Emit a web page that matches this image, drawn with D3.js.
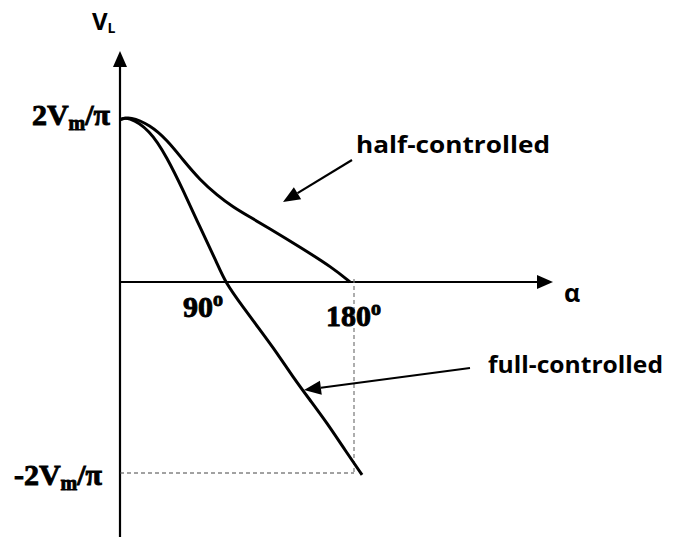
<!DOCTYPE html>
<html>
<head>
<meta charset="utf-8">
<script src="https://cdn.jsdelivr.net/npm/d3@7"></script>
<style>
  body { margin: 0; background: #fff; }
  .serif { font-family: "Liberation Serif", "Times New Roman", serif; font-weight: bold; stroke: #000; stroke-width: 0.9px; }
  .sans { font-family: "Open Sans", "Liberation Sans", sans-serif; font-weight: bold; }
</style>
</head>
<body>
<svg id="chart" width="678" height="537"></svg>
<script>
// firing angle (deg) and normalised output voltage
let full_alpha = [0, 6, 23, 36.5, 49, 62, 75.3, 81.5, 95.4, 108.6, 121.8, 134.2, 147.4, 160.6, 173, 187.8],
    full_vl    = [0.99, 1.01, 0.93, 0.76, 0.56, 0.335, 0.116, 0, -0.131, -0.251, -0.372, -0.497, -0.618, -0.738, -0.864, -1.01],
    half_alpha = [0, 7.8, 23.3, 36.5, 48.9, 62.1, 75.3, 87.7, 100.9, 114.1, 139.7, 165.3, 178.4],
    half_vl    = [0.99, 1.01, 0.957, 0.866, 0.744, 0.622, 0.53, 0.457, 0.396, 0.335, 0.213, 0.085, 0],
    x_ticks = [90, 180],
    y_ticks = [1, -1];

// small stand-in for d3-selection-multi
d3.selection.prototype.attrs = function(o) {
  for (let k in o) this.attr(k, o[k]);
  return this;
};

let svg = d3.select("#chart");

let x = d3.scaleLinear().domain([0, 180]).range([120, 352]),
    y = d3.scaleLinear().domain([-1, 0, 1]).range([473, 282, 118]);

let x0 = x(0), y0 = y(0);

// axes with arrowheads
svg.append("line")
  .attrs({x1: x0, y1: 537, x2: x0, y2: 66, stroke: "#000", "stroke-width": 2.2});
svg.append("path")
  .attr("d", `M${x0 - 7},${67} L${x0},${51} L${x0 + 7},${67} Z`)
  .attr("fill", "#000");
svg.append("line")
  .attrs({x1: x0, y1: y0, x2: 538, y2: y0, stroke: "#000", "stroke-width": 2.2});
svg.append("path")
  .attr("d", `M${537},${y0 - 7} L${553},${y0} L${537},${y0 + 7} Z`)
  .attr("fill", "#000");

// dashed guides at 180 deg and -2Vm/pi
svg.append("line")
  .attrs({x1: x(180) + 2, y1: y0 - 3, x2: x(180) + 2, y2: y(-1),
          stroke: "#777", "stroke-width": 1.2, "stroke-dasharray": "4,3"});
svg.append("line")
  .attrs({x1: x0, y1: y(-1), x2: x(180) + 2, y2: y(-1),
          stroke: "#444", "stroke-width": 1, "stroke-dasharray": "4,3"});

// curves
let line = d3.line()
  .x(d => x(d[0]))
  .y(d => y(d[1]))
  .curve(d3.curveBasis);

svg.append("path")
  .datum(d3.zip(full_alpha, full_vl))
  .attrs({d: line, fill: "none", stroke: "#000", "stroke-width": 3});
svg.append("path")
  .datum(d3.zip(half_alpha, half_vl))
  .attrs({d: line, fill: "none", stroke: "#000", "stroke-width": 3});

// x tick labels
let xt = svg.selectAll(".xtick")
  .data(x_ticks).enter()
  .append("text")
  .attrs({
    class: "serif",
    x: d => d == 90 ? x(d) - 13 : x(d) + 29,
    y: d => d == 90 ? 317 : 326,
    "text-anchor": "end",
    "font-size": 30
  });
xt.append("tspan").text(d => d);
xt.append("tspan").text("o").attrs({"font-size": 20, dy: -11});

// y tick labels
let yt = svg.selectAll(".ytick")
  .data(y_ticks).enter()
  .append("text")
  .attrs({
    class: "serif",
    x: d => d > 0 ? 110 : 102,
    y: d => d > 0 ? 125 : 485,
    "text-anchor": "end",
    "font-size": 30
  });
yt.append("tspan").text(d => d > 0 ? "2V" : "-2V");
yt.append("tspan").text("m").attrs({"font-size": 20, dy: 5});
yt.append("tspan").text("/\u03c0").attrs({dy: -5});

// axis titles
let vl = svg.append("text")
  .attrs({class: "sans", x: 92, y: 30, "font-size": 24});
vl.append("tspan").text("V");
vl.append("tspan").text("L").attrs({"font-size": 14, dy: 3});

svg.append("text")
  .text("\u03b1")
  .attrs({class: "sans", x: 564, y: 302, "font-size": 25});

// annotations
svg.append("text")
  .text("half-controlled")
  .attrs({class: "sans", x: 356, y: 153, "font-size": 23,
          textLength: 194, lengthAdjust: "spacingAndGlyphs"});
svg.append("text")
  .text("full-controlled")
  .attrs({class: "sans", x: 488, y: 373, "font-size": 23,
          textLength: 175, lengthAdjust: "spacingAndGlyphs"});

function arrow(from, to) {
  let dx = to[0] - from[0], dy = to[1] - from[1],
      len = Math.sqrt(dx * dx + dy * dy),
      ux = dx / len, uy = dy / len,
      hl = 17, hw = 7,
      bx = to[0] - ux * hl, by = to[1] - uy * hl;
  svg.append("line")
    .attrs({x1: from[0], y1: from[1], x2: bx, y2: by, stroke: "#000", "stroke-width": 2.2});
  svg.append("path")
    .attr("d", `M${to[0]},${to[1]} L${bx - uy * hw},${by + ux * hw} L${bx + uy * hw},${by - ux * hw} Z`)
    .attr("fill", "#000");
}
arrow([352, 160], [283, 202]);
arrow([470, 368], [304, 390]);
</script>
</body>
</html>
